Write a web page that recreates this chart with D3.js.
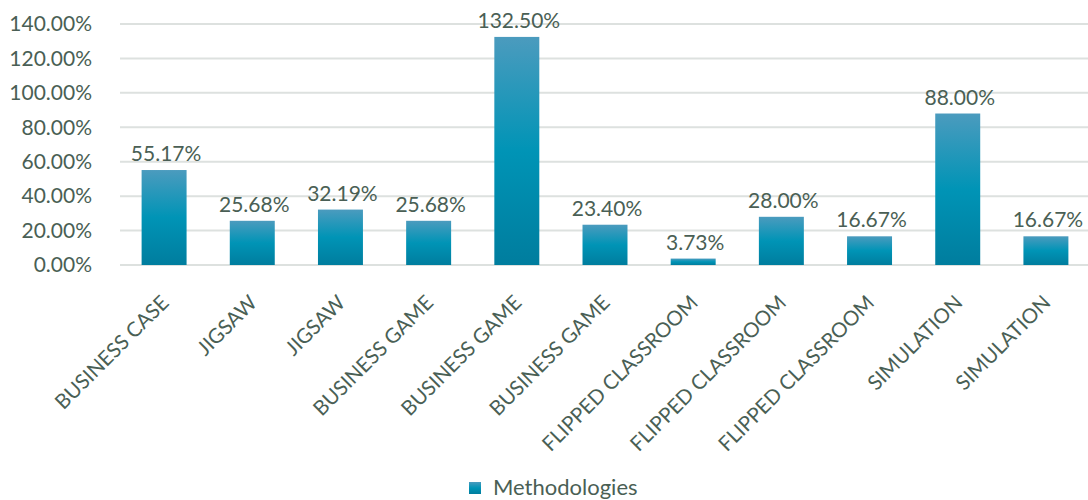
<!DOCTYPE html>
<html>
<head>
<meta charset="utf-8">
<script src="https://cdn.jsdelivr.net/npm/d3@7"></script>
<style>
  body { margin: 0; background: #fff; }
  svg { display: block; font-family: Lato, "Open Sans", sans-serif; }
  .lbl { fill: #4a5f55; }
</style>
</head>
<body>
<svg id="chart" width="1088" height="500"></svg>
<script>
// chart data
const categories = ['BUSINESS CASE', 'JIGSAW', 'JIGSAW', 'BUSINESS GAME', 'BUSINESS GAME',
  'BUSINESS GAME', 'FLIPPED CLASSROOM', 'FLIPPED CLASSROOM', 'FLIPPED CLASSROOM',
  'SIMULATION', 'SIMULATION'];
const values = [55.17, 25.68, 32.19, 25.68, 132.50, 23.40, 3.73, 28.00, 16.67, 88.00, 16.67];
const yTicks = [0, 20, 40, 60, 80, 100, 120, 140];
const seriesName = 'Methodologies';

const svg = d3.select('#chart');
const margin = { left: 120, right: -2, top: 24, bottom: 265 };

// categories share the index so duplicates get their own slot
const x = d3.scaleBand()
  .domain(d3.range(categories.length))
  .range([margin.left, 1088 - margin.right])
  .paddingInner(0.49)
  .paddingOuter(0.245);

const y = d3.scaleLinear()
  .domain([0, 140])
  .range([margin.bottom, margin.top]);

// gradient like the excel fill
const grad = svg.append('defs').append('linearGradient')
  .attr('id', 'barGrad')
  .attr('x1', 0).attr('y1', 0).attr('x2', 0).attr('y2', 1);
grad.append('stop').attr('offset', '0%').attr('stop-color', '#4b9bbe');
grad.append('stop').attr('offset', '50%').attr('stop-color', '#0094b6');
grad.append('stop').attr('offset', '100%').attr('stop-color', '#007d9e');

// gridlines
svg.append('g')
  .selectAll('line')
  .data(yTicks)
  .join('line')
  .attr('x1', margin.left)
  .attr('x2', 1088)
  .attr('y1', d => y(d))
  .attr('y2', d => y(d))
  .attr('stroke', '#dde1df')
  .attr('stroke-width', 2);

// y axis labels
svg.append('g')
  .selectAll('text')
  .data(yTicks)
  .join('text')
  .attr('class', 'lbl')
  .attr('x', 92)
  .attr('y', d => y(d))
  .attr('dy', '0.35em')
  .attr('text-anchor', 'end')
  .style('font-size', '21px')
  .text(d => d3.format('.2f')(d) + '%');

// bars
svg.append('g')
  .selectAll('rect')
  .data(values)
  .join('rect')
  .attr('x', (d, i) => x(i))
  .attr('y', d => y(d))
  .attr('width', x.bandwidth())
  .attr('height', d => y(0) - y(d))
  .attr('fill', 'url(#barGrad)');

// value labels
svg.append('g')
  .selectAll('text')
  .data(values)
  .join('text')
  .attr('class', 'lbl')
  .attr('x', (d, i) => x(i) + x.bandwidth() / 2 + 2)
  .attr('y', d => y(d) - 9)
  .attr('text-anchor', 'middle')
  .style('font-size', '21px')
  .text(d => d3.format('.2f')(d) + '%');

// category labels, rotated
svg.append('g')
  .selectAll('text')
  .data(categories)
  .join('text')
  .attr('class', 'lbl')
  .attr('text-anchor', 'end')
  .attr('transform', (d, i) => 'translate(' + (x(i) + x.bandwidth() / 2 + 6) + ',304) rotate(-45)')
  .style('font-size', '20.5px')
  .text(d => d);

// legend
const legend = svg.append('g').attr('transform', 'translate(469,482)');
legend.append('rect')
  .attr('width', 12)
  .attr('height', 12)
  .attr('fill', 'url(#barGrad)');
legend.append('text')
  .attr('class', 'lbl')
  .attr('x', 24)
  .attr('y', 13)
  .style('font-size', '22px')
  .text(seriesName);
</script>
</body>
</html>
